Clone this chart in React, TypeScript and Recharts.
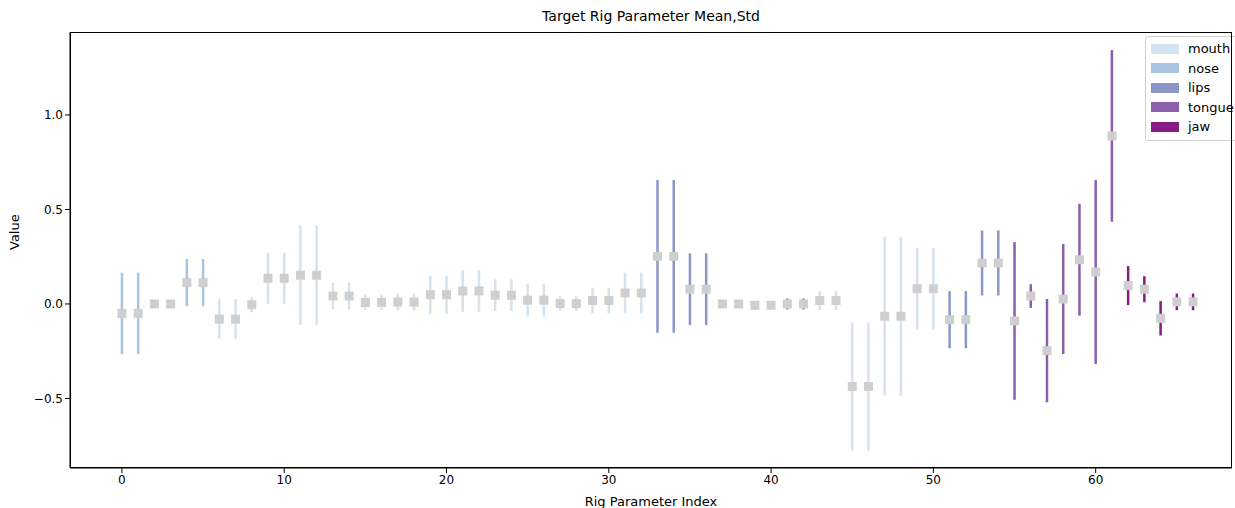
import React from 'react'
import {
  ComposedChart,
  Scatter,
  ErrorBar,
  XAxis,
  YAxis,
} from 'recharts'

// mean / std per rig parameter
const means = [
  -0.05, -0.05, 0.0, 0.0, 0.113, 0.113, -0.08, -0.08, -0.004, 0.136,
  0.136, 0.152, 0.152, 0.042, 0.042, 0.008, 0.008, 0.01, 0.01, 0.049,
  0.049, 0.069, 0.069, 0.046, 0.046, 0.02, 0.02, 0.002, 0.002, 0.018,
  0.018, 0.058, 0.058, 0.252, 0.252, 0.078, 0.078, 0.0, 0.0, -0.007,
  -0.007, 0.0, 0.0, 0.018, 0.018, -0.437, -0.437, -0.065, -0.065, 0.081,
  0.081, -0.083, -0.083, 0.217, 0.217, -0.09, 0.042, -0.247, 0.026, 0.234,
  0.169, 0.889, 0.097, 0.078, -0.076, 0.011, 0.011,
]

const stds = [
  0.215, 0.215, 0.02, 0.02, 0.125, 0.125, 0.105, 0.105, 0.04, 0.135,
  0.135, 0.262, 0.262, 0.07, 0.07, 0.04, 0.04, 0.045, 0.045, 0.1,
  0.1, 0.11, 0.11, 0.084, 0.084, 0.087, 0.087, 0.038, 0.038, 0.068,
  0.068, 0.108, 0.108, 0.404, 0.404, 0.19, 0.19, 0.02, 0.02, 0.012,
  0.012, 0.03, 0.03, 0.05, 0.05, 0.339, 0.339, 0.42, 0.42, 0.214,
  0.214, 0.151, 0.151, 0.172, 0.172, 0.417, 0.063, 0.273, 0.291, 0.296,
  0.487, 0.454, 0.103, 0.069, 0.091, 0.044, 0.044,
]

const groupOf = [
  'nose', 'nose', 'nose', 'nose', 'nose', 'nose', 'mouth', 'mouth', 'mouth', 'mouth',
  'mouth', 'mouth', 'mouth', 'mouth', 'mouth', 'mouth', 'mouth', 'mouth', 'mouth', 'mouth',
  'mouth', 'mouth', 'mouth', 'mouth', 'mouth', 'mouth', 'mouth', 'mouth', 'mouth', 'mouth',
  'mouth', 'mouth', 'mouth', 'lips', 'lips', 'lips', 'lips', 'mouth', 'mouth', 'mouth',
  'mouth', 'lips', 'lips', 'mouth', 'mouth', 'mouth', 'mouth', 'mouth', 'mouth', 'mouth',
  'mouth', 'lips', 'lips', 'lips', 'lips', 'tongue', 'tongue', 'tongue', 'tongue', 'tongue',
  'tongue', 'tongue', 'jaw', 'jaw', 'jaw', 'jaw', 'jaw',
]

const groups = ['mouth', 'nose', 'lips', 'tongue', 'jaw']
const groupColors = ['#d4e3f0', '#a7c4e0', '#8c96c6', '#8c5fac', '#861b84']

const xTicks = [0, 10, 20, 30, 40, 50, 60]
const yTicks = [-0.5, 0, 0.5, 1.0]

const W = 1235
const H = 508
const PLOT = { left: 70, top: 32, right: 1232, bottom: 468 }

const points = means.map((m, i) => ({ idx: i, mean: m, std: stds[i], group: groupOf[i] }))

const font = "'DejaVu Sans', sans-serif"

const fmtY = (v: number) => (v < 0 ? '\u2212' + Math.abs(v).toFixed(1) : v.toFixed(1))

function MeanMarker(props: any) {
  const { cx, cy } = props
  if (cx == null || cy == null) return <g />
  return <rect x={cx - 4.5} y={cy - 4.5} width={9} height={9} fill="#cfcfcf" />
}

function LegendBox() {
  return (
    <div
      style={{
        position: 'absolute',
        left: 1145,
        top: 36,
        border: '1px solid #d0d0d0',
        borderRadius: 3,
        background: 'rgba(255,255,255,0.8)',
        padding: '2px 3px 3px 5px',
        fontFamily: font,
        fontSize: 13,
        lineHeight: '19.5px',
      }}
    >
      {groups.map((g, i) => (
        <div key={g} style={{ display: 'flex', alignItems: 'center' }}>
          <span style={{ display: 'inline-block', width: 28, height: 10, background: groupColors[i], marginRight: 9 }} />
          <span>{g}</span>
        </div>
      ))}
    </div>
  )
}

export default function App() {
  return (
    <div style={{ position: 'absolute', left: 0, top: 0, width: W, height: H, background: '#fff', overflow: 'hidden' }}>
      <div
        style={{
          position: 'absolute',
          left: PLOT.left,
          width: PLOT.right - PLOT.left,
          top: 8,
          textAlign: 'center',
          fontFamily: font,
          fontSize: 14,
        }}
      >
        Target Rig Parameter Mean,Std
      </div>
      <ComposedChart
        width={W}
        height={H}
        margin={{ top: PLOT.top, left: 0, right: W - PLOT.right, bottom: 0 }}
      >
        <XAxis
          dataKey="idx"
          type="number"
          domain={[-3.2, 68.4]}
          ticks={xTicks}
          allowDataOverflow
          height={H - PLOT.bottom}
          tickSize={5}
          stroke="#000"
          tick={{ fill: '#000', fontSize: 12, fontFamily: font }}
          label={{ value: 'Rig Parameter Index', position: 'insideBottom', offset: 2, fill: '#000', fontSize: 13, fontFamily: font }}
        />
        <YAxis
          dataKey="mean"
          type="number"
          domain={[-0.868, 1.439]}
          ticks={yTicks}
          allowDataOverflow
          width={PLOT.left}
          tickSize={5}
          stroke="#000"
          tickFormatter={fmtY}
          tick={{ fill: '#000', fontSize: 12, fontFamily: font }}
          label={{ value: 'Value', angle: -90, position: 'insideLeft', offset: 14, fill: '#000', fontSize: 13, fontFamily: font }}
        />
        <Scatter data={points} dataKey="mean" shape={MeanMarker} isAnimationActive={false} legendType="none" />
        {groups.map((g, i) => (
          <Scatter
            key={g}
            name={g}
            data={points.filter(p => p.group === g)}
            dataKey="mean"
            fill={groupColors[i]}
            shape={() => <g />}
            isAnimationActive={false}
          >
            <ErrorBar dataKey="std" direction="y" width={0} stroke={groupColors[i]} strokeWidth={2.5} />
          </Scatter>
        ))}
      </ComposedChart>
      <LegendBox />
      <div
        style={{
          position: 'absolute',
          left: PLOT.left,
          top: PLOT.top,
          width: PLOT.right - PLOT.left,
          height: PLOT.bottom - PLOT.top,
          border: '1px solid #000',
          boxSizing: 'border-box',
          pointerEvents: 'none',
        }}
      />
    </div>
  )
}
